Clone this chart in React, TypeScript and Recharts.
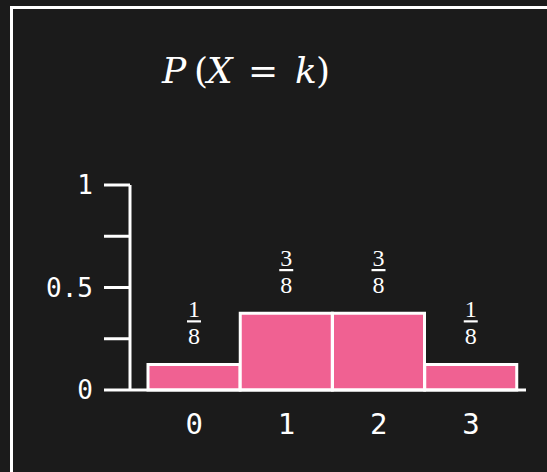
import React from 'react';
import { BarChart, Bar, XAxis, YAxis, LabelList } from 'recharts';

const outcomes = ['0', '1', '2', '3'];
const numerators = [1, 3, 3, 1];
const denominator = 8;
const yTicks = [0, 0.25, 0.5, 0.75, 1];
const yLabels: Record<number, string> = { 0: '0', 0.5: '0.5', 1: '1' };

const data = outcomes.map((k, i) => ({
    k,
    num: numerators[i],
    den: denominator,
    p: numerators[i] / denominator,
}));

const BG = '#1b1b1b';
const PINK = '#F06192';
const SERIF = '"Liberation Serif", "DejaVu Serif", serif';
const MATH = '"DejaVu Serif", "Liberation Serif", serif';
const MONO = '"DejaVu Sans Mono", "Liberation Mono", monospace';

// fraction drawn above each bar: numerator, rule, denominator
function FractionLabel(props: any) {
    const { x, y, width, index } = props;
    const cx = Number(x) + Number(width) / 2;
    const lineY = Number(y) - 43;
    const row = data[index];
    return (
        <g>
            <text x={cx} y={lineY - 4} textAnchor={'middle'} fill={'#fff'} fontFamily={SERIF} fontSize={24}>
                {row.num}
            </text>
            <line x1={cx - 7} x2={cx + 7} y1={lineY} y2={lineY} stroke={'#fff'} strokeWidth={2.2} />
            <text x={cx} y={lineY + 23} textAnchor={'middle'} fill={'#fff'} fontFamily={SERIF} fontSize={24}>
                {row.den}
            </text>
        </g>
    );
}

function Title() {
    const t = { fill: '#fff', fontFamily: MATH, fontSize: 36 };
    return (
        <svg width={547} height={120} style={{ position: 'absolute', left: 0, top: 0 }}>
            <text y={83} {...t}>
                <tspan x={162} fontStyle={'italic'}>P</tspan>
                <tspan x={194}>(</tspan>
                <tspan x={207} fontStyle={'italic'}>X</tspan>
                <tspan x={248}>=</tspan>
                <tspan x={295} fontStyle={'italic'}>k</tspan>
                <tspan x={316}>)</tspan>
            </text>
        </svg>
    );
}

export default function App() {
    return (
        <div style={{ position: 'absolute', left: 0, top: 0, width: 547, height: 472, background: BG, overflow: 'hidden' }}>
            <div style={{ position: 'absolute', left: 10, top: 6, width: 700, height: 700, border: '3px solid #fff' }} />
            <Title />
            <div style={{ position: 'absolute', left: 0, top: 0 }}>
                <BarChart
                    width={547}
                    height={472}
                    data={data}
                    margin={{ top: 185, right: 21, left: 0, bottom: 0 }}
                    barCategoryGap={0}
                >
                    <XAxis
                        dataKey={'k'}
                        height={82}
                        padding={{ left: 18, right: 9 }}
                        axisLine={{ stroke: '#fff', strokeWidth: 3 }}
                        tickLine={false}
                        tickSize={0}
                        tickMargin={23}
                        tick={{ fill: '#fff', fontSize: 29, fontFamily: MONO }}
                    />
                    <YAxis
                        type={'number'}
                        domain={[0, 1]}
                        ticks={yTicks}
                        width={130}
                        axisLine={{ stroke: '#fff', strokeWidth: 3 }}
                        tickLine={{ stroke: '#fff', strokeWidth: 3 }}
                        tickSize={26}
                        tickMargin={11}
                        tickFormatter={(v: number) => yLabels[v] ?? ''}
                        tick={{ fill: '#fff', fontSize: 26, fontFamily: MONO }}
                    />
                    <Bar dataKey={'p'} fill={PINK} stroke={'#fff'} strokeWidth={3} isAnimationActive={false}>
                        <LabelList dataKey={'p'} content={<FractionLabel />} />
                    </Bar>
                </BarChart>
            </div>
        </div>
    );
}
